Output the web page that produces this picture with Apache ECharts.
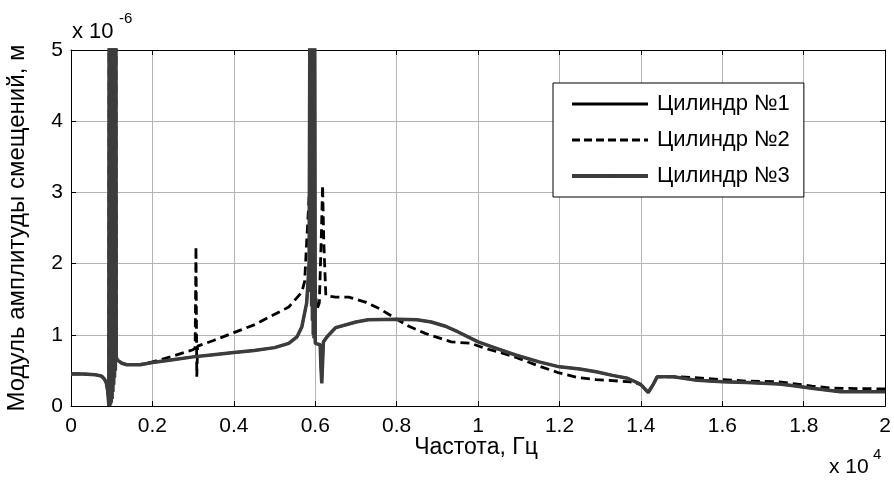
<!DOCTYPE html>
<html>
<head>
<meta charset="utf-8">
<script src="https://cdn.jsdelivr.net/npm/echarts@6/dist/echarts.min.js"></script>
<style>html,body{margin:0;padding:0;background:#fff}#c{width:894px;height:486px}</style>
</head>
<body>
<div id="c"></div>
<script>
// x in units of 10^4 Hz, y in units of 10^-6 m
var seriesNames = ['Цилиндр №1', 'Цилиндр №2', 'Цилиндр №3'];
var xTicks = [0, 0.2, 0.4, 0.6, 0.8, 1, 1.2, 1.4, 1.6, 1.8, 2];
var yTicks = [0, 1, 2, 3, 4, 5];

var cyl1 = [[0,0.45],[0.03,0.45],[0.06,0.44],[0.075,0.42],[0.082,0.38],[0.087,0.32],[0.090,0.22],[0.092,0.08],[0.093,0.0],[0.094,8],[0.095,0.0],[0.096,8],[0.097,0.02],[0.098,8],[0.099,0.05],[0.100,8],[0.101,0.1],[0.102,8],[0.103,0.2],[0.104,8],[0.105,0.3],[0.106,8],[0.107,0.4],[0.108,8],[0.109,0.5],[0.110,8],[0.111,0.68],[0.115,0.64],[0.125,0.60],[0.137,0.58],[0.17,0.58],[0.2,0.61],[0.25,0.65],[0.3,0.69],[0.35,0.72],[0.4,0.75],[0.45,0.78],[0.5,0.82],[0.535,0.88],[0.555,0.97],[0.567,1.11],[0.579,1.45],[0.585,2.0],[0.588,8],[0.589,1.6],[0.590,8],[0.591,1.4],[0.592,8],[0.593,1.2],[0.594,8],[0.595,1.0],[0.596,8],[0.597,0.95],[0.598,8],[0.600,0.88],[0.612,0.86],[0.614,0.55],[0.616,0.32],[0.618,0.6],[0.620,0.90],[0.63,0.98],[0.65,1.10],[0.7,1.18],[0.73,1.21],[0.8,1.22],[0.85,1.21],[0.885,1.18],[0.92,1.12],[0.951,1.04],[1.0,0.90],[1.05,0.80],[1.09,0.72],[1.15,0.62],[1.2,0.55],[1.25,0.52],[1.29,0.48],[1.33,0.43],[1.367,0.39],[1.39,0.33],[1.40,0.30],[1.418,0.19],[1.43,0.30],[1.44,0.41],[1.48,0.41],[1.538,0.36],[1.6,0.34],[1.66,0.33],[1.74,0.31],[1.78,0.28],[1.82,0.25],[1.89,0.20],[2.0,0.20]];

var cyl2 = [[0,0.45],[0.03,0.45],[0.06,0.44],[0.075,0.42],[0.082,0.38],[0.087,0.32],[0.090,0.22],[0.092,0.08],[0.093,0.0],[0.094,8],[0.096,0.02],[0.098,8],[0.100,0.1],[0.102,8],[0.104,0.3],[0.106,8],[0.108,0.5],[0.110,8],[0.111,0.68],[0.115,0.64],[0.125,0.60],[0.137,0.58],[0.17,0.58],[0.2,0.62],[0.25,0.70],[0.3,0.79],[0.305,0.82],[0.307,2.24],[0.309,0.41],[0.311,0.84],[0.35,0.92],[0.4,1.03],[0.45,1.14],[0.487,1.25],[0.535,1.39],[0.567,1.60],[0.574,1.75],[0.578,2.2],[0.585,2.95],[0.592,2.7],[0.598,1.8],[0.604,1.35],[0.610,1.45],[0.615,2.4],[0.618,3.1],[0.621,2.3],[0.626,1.55],[0.65,1.53],[0.682,1.53],[0.723,1.46],[0.76,1.36],[0.797,1.23],[0.83,1.12],[0.87,1.02],[0.934,0.90],[0.983,0.88],[1.017,0.81],[1.05,0.76],[1.09,0.69],[1.15,0.56],[1.196,0.47],[1.244,0.40],[1.29,0.37],[1.374,0.34],[1.40,0.30],[1.418,0.20],[1.43,0.30],[1.44,0.41],[1.5,0.41],[1.55,0.39],[1.6,0.37],[1.66,0.35],[1.74,0.34],[1.82,0.28],[1.87,0.25],[2.0,0.24]];

var cyl3 = [[0,0.45],[0.03,0.45],[0.06,0.44],[0.075,0.42],[0.082,0.38],[0.087,0.32],[0.090,0.22],[0.092,0.08],[0.093,0.0],[0.094,8],[0.095,0.0],[0.096,8],[0.097,0.02],[0.098,8],[0.099,0.05],[0.100,8],[0.101,0.1],[0.102,8],[0.103,0.2],[0.104,8],[0.105,0.3],[0.106,8],[0.107,0.4],[0.108,8],[0.109,0.5],[0.110,8],[0.111,0.68],[0.115,0.64],[0.125,0.60],[0.137,0.58],[0.17,0.58],[0.2,0.61],[0.25,0.65],[0.3,0.69],[0.35,0.72],[0.4,0.75],[0.45,0.78],[0.5,0.82],[0.535,0.88],[0.555,0.97],[0.567,1.11],[0.579,1.45],[0.585,2.0],[0.588,8],[0.589,1.6],[0.590,8],[0.591,1.4],[0.592,8],[0.593,1.2],[0.594,8],[0.595,1.0],[0.596,8],[0.597,0.95],[0.598,8],[0.600,0.88],[0.612,0.86],[0.614,0.55],[0.616,0.32],[0.618,0.6],[0.620,0.90],[0.63,0.98],[0.65,1.10],[0.7,1.18],[0.73,1.21],[0.8,1.22],[0.85,1.21],[0.885,1.18],[0.92,1.12],[0.951,1.04],[1.0,0.90],[1.05,0.80],[1.09,0.72],[1.15,0.62],[1.2,0.55],[1.25,0.52],[1.29,0.48],[1.33,0.43],[1.367,0.39],[1.39,0.33],[1.40,0.30],[1.418,0.19],[1.43,0.30],[1.44,0.41],[1.48,0.41],[1.538,0.36],[1.6,0.34],[1.66,0.33],[1.74,0.31],[1.78,0.28],[1.82,0.25],[1.89,0.20],[2.0,0.20]];

var FONT = "'Liberation Sans', Arial, sans-serif";

var chart = echarts.init(document.getElementById('c'), null, {renderer: 'canvas'});

function xAx(pos, showLabel) {
  return {
    type: 'value', position: pos, min: xTicks[0], max: xTicks[xTicks.length - 1], interval: 0.2,
    axisLine: {show: true, onZero: false, lineStyle: {color: '#000', width: 1}},
    axisTick: {show: true, inside: true, length: 5, lineStyle: {color: '#000'}},
    axisLabel: {show: showLabel, color: '#000', fontSize: 21, fontFamily: FONT, margin: 10,
      formatter: function (v) { return String(Math.round(v * 10) / 10); }},
    splitLine: {show: showLabel, lineStyle: {color: '#b4b4b4', width: 1}}
  };
}
function yAx(pos, showLabel) {
  return {
    type: 'value', position: pos, min: yTicks[0], max: yTicks[yTicks.length - 1], interval: 1,
    axisLine: {show: true, onZero: false, lineStyle: {color: '#000', width: 1}},
    axisTick: {show: true, inside: true, length: 5, lineStyle: {color: '#000'}},
    axisLabel: {show: showLabel, color: '#000', fontSize: 21, fontFamily: FONT, margin: 8},
    splitLine: {show: showLabel, lineStyle: {color: '#b4b4b4', width: 1}}
  };
}

chart.setOption({
  animation: false,
  backgroundColor: '#fff',
  grid: {left: 71, right: 4, top: 50, bottom: 80, containLabel: false},
  xAxis: [xAx('bottom', true), xAx('top', false)],
  yAxis: [yAx('left', true), yAx('right', false)],
  legend: {
    orient: 'vertical', left: 553, top: 83,
    data: [
      {name: seriesNames[0], lineStyle: {width: 3, color: '#000', type: 'solid'}},
      {name: seriesNames[1], lineStyle: {width: 3, color: '#000', type: [8, 4]}},
      {name: seriesNames[2], lineStyle: {width: 4, color: '#3c3c3c', type: 'solid'}}
    ],
    backgroundColor: '#fff', borderColor: '#000', borderWidth: 1,
    padding: [10, 14, 10, 17],
    itemGap: 14, itemWidth: 76, itemHeight: 2,
    textStyle: {fontSize: 22, fontFamily: FONT, color: '#000', padding: [0, 0, 0, 4]},
    selectedMode: false
  },
  series: [
    {name: seriesNames[0], type: 'line', data: cyl1, showSymbol: false, symbol: 'none', clip: true,
      lineStyle: {color: '#000', width: 2.5, type: 'solid'}, itemStyle: {color: '#000'}, z: 2},
    {name: seriesNames[1], type: 'line', data: cyl2, showSymbol: false, symbol: 'none', clip: true,
      lineStyle: {color: '#000', width: 2.8, type: [9, 5]}, itemStyle: {color: '#000'}, z: 3},
    {name: seriesNames[2], type: 'line', data: cyl3, showSymbol: false, symbol: 'none', clip: true,
      lineStyle: {color: '#3c3c3c', width: 3.5, type: 'solid'}, itemStyle: {color: '#3c3c3c'}, z: 4}
  ],
  graphic: [
    {type: 'text', left: 72, top: 21, style: {text: 'x 10', fontSize: 22, fontFamily: FONT, fill: '#000'}},
    {type: 'text', left: 119, top: 11, style: {text: '-6', fontSize: 15, fontFamily: FONT, fill: '#000'}},
    {type: 'text', x: 17, y: 228, rotation: Math.PI / 2,
      style: {text: 'Модуль амплитуды смещений, м', fontSize: 24, fontFamily: FONT, fill: '#000', align: 'center', verticalAlign: 'middle'}},
    {type: 'text', x: 476, y: 448,
      style: {text: 'Частота, Гц', fontSize: 23, fontFamily: FONT, fill: '#000', align: 'center', verticalAlign: 'middle'}},
    {type: 'text', left: 829, top: 457, style: {text: 'x 10', fontSize: 21, fontFamily: FONT, fill: '#000'}},
    {type: 'text', left: 873, top: 447, style: {text: '4', fontSize: 15, fontFamily: FONT, fill: '#000'}}
  ]
});
</script>
</body>
</html>
